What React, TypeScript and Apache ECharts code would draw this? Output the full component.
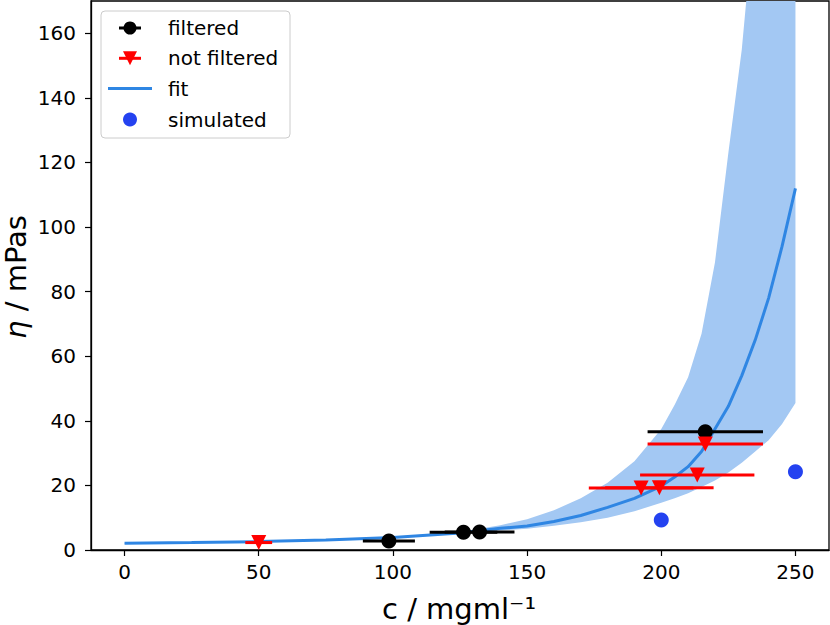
import { useEffect, useRef } from 'react'
import * as echarts from 'echarts'

// fit curve and its confidence band
const fitX = [0, 25, 50, 75, 100, 125, 140, 150, 160, 170, 180, 190, 200, 205, 210, 215, 220, 225, 230, 235, 240, 245, 250]
const fitY = [2.1, 2.3, 2.6, 3.1, 3.85, 5.3, 6.7, 7.4, 8.8, 10.7, 13.2, 16.0, 19.8, 22.6, 25.8, 30.5, 37.5, 44.5, 54, 65, 78, 94, 112]
const bandLow = [2.05, 2.25, 2.5, 3.0, 3.7, 5.0, 6.0, 6.6, 7.5, 8.6, 10.0, 12.0, 14.6, 16.0, 17.6, 19.5, 21.5, 24, 27, 30.5, 34, 39, 45.5]
const bandHigh = [2.15, 2.35, 2.7, 3.2, 4.1, 5.6, 7.7, 9.5, 12.3, 16.0, 20.8, 27.5, 37.5, 45, 53.5, 67, 89, 123, 155, 200, 280, 420, 700]

// measured points with horizontal error bars
const filteredX = [98.5, 126.3, 132.3, 216.4]
const filteredY = [2.8, 5.5, 5.6, 36.6]
const filteredErr = [9.7, 12.6, 13.0, 21.5]

const notFilteredX = [50, 192.5, 199.3, 213.4, 216.4]
const notFilteredY = [2.3, 19.2, 19.3, 23.2, 32.8]
const notFilteredErr = [5, 19.5, 20.2, 21.3, 21.5]

const simulatedX = [200, 250]
const simulatedY = [9.3, 24.2]

const xTicks = [0, 50, 100, 150, 200, 250]
const yTicks = [0, 20, 40, 60, 80, 100, 120, 140, 160]

const FONT = 'DejaVu Sans'
const FIT_COLOR = '#2f86e3'
const BAND_COLOR = '#a3c8f3'
const SIM_COLOR = '#2442f0'

const errorBars = (xs: number[], ys: number[], errs: number[], color: string) => ({
  type: 'custom',
  data: xs.map((x, i) => [x, ys[i], errs[i]]),
  encode: { x: 0, y: 1 },
  renderItem: (_params: any, api: any) => {
    const x = api.value(0)
    const y = api.value(1)
    const e = api.value(2)
    const p1 = api.coord([x - e, y])
    const p2 = api.coord([x + e, y])
    return {
      type: 'line',
      shape: { x1: p1[0], y1: p1[1], x2: p2[0], y2: p2[1] },
      style: { stroke: color, lineWidth: 3 },
    }
  },
})

const legendRows = [28, 58.3, 88.6, 119.5]
const legendLabels = ['filtered', 'not filtered', 'fit', 'simulated']

export default function App() {
  const chartRef = useRef<HTMLDivElement>(null)

  useEffect(() => {
    if (!chartRef.current) return
    const chart = echarts.init(chartRef.current, null, { renderer: 'svg' })

    const legendGraphics: any[] = [
      {
        type: 'rect',
        shape: { x: 101, y: 11, width: 189, height: 127, r: 4 },
        style: { fill: 'rgba(255,255,255,0.8)', stroke: '#cccccc', lineWidth: 1 },
      },
      { type: 'line', shape: { x1: 119, y1: legendRows[0], x2: 141, y2: legendRows[0] }, style: { stroke: '#000', lineWidth: 3 } },
      { type: 'circle', shape: { cx: 130, cy: legendRows[0], r: 6.5 }, style: { fill: '#000' } },
      { type: 'line', shape: { x1: 119, y1: legendRows[1], x2: 141, y2: legendRows[1] }, style: { stroke: '#ff0000', lineWidth: 3 } },
      {
        type: 'polygon',
        shape: { points: [[123, legendRows[1] - 7], [137, legendRows[1] - 7], [130, legendRows[1] + 7]] },
        style: { fill: '#ff0000' },
      },
      { type: 'line', shape: { x1: 108, y1: legendRows[2], x2: 152, y2: legendRows[2] }, style: { stroke: FIT_COLOR, lineWidth: 3 } },
      { type: 'circle', shape: { cx: 130, cy: legendRows[3], r: 7 }, style: { fill: SIM_COLOR } },
      ...legendLabels.map((t, i) => ({
        type: 'text',
        x: 168,
        y: legendRows[i],
        style: { text: t, font: `20px "${FONT}"`, fill: '#000', verticalAlign: 'middle', align: 'left' },
      })),
    ]

    chart.setOption({
      animation: false,
      grid: {
        left: 91,
        right: 1,
        top: 1,
        bottom: 75,
        show: true,
        borderColor: '#000',
        borderWidth: 1.3,
        backgroundColor: 'transparent',
      },
      xAxis: {
        type: 'value',
        min: -12.5,
        max: 262.5,
        splitLine: { show: false },
        axisLine: { onZero: false, lineStyle: { color: '#000', width: 1.3 } },
        axisTick: { show: true, length: 6, lineStyle: { color: '#000', width: 1.2 }, customValues: xTicks },
        axisLabel: { fontFamily: FONT, fontSize: 20, color: '#000', margin: 12, customValues: xTicks },
      },
      yAxis: {
        type: 'value',
        min: 0,
        max: 170,
        splitLine: { show: false },
        axisLine: { show: true, onZero: false, lineStyle: { color: '#000', width: 1.3 } },
        axisTick: { show: true, length: 6, lineStyle: { color: '#000', width: 1.2 }, customValues: yTicks },
        axisLabel: { fontFamily: FONT, fontSize: 20, color: '#000', margin: 15, customValues: yTicks },
      },
      graphic: [
        {
          type: 'text',
          x: 15.5,
          y: 277,
          rotation: Math.PI / 2,
          style: {
            text: '{i|η} / mPas',
            font: `29px "${FONT}"`,
            fill: '#000',
            align: 'center',
            verticalAlign: 'middle',
            rich: { i: { fontFamily: FONT, fontSize: 29, fontStyle: 'italic', fill: '#000' } },
          },
        },
        {
          type: 'text',
          x: 459,
          y: 609,
          style: { text: 'c / mgml⁻¹', font: `29px "${FONT}"`, fill: '#000', align: 'center', verticalAlign: 'middle' },
        },
        { type: 'group', z: 100, children: legendGraphics },
      ],
      series: [
        {
          // confidence band drawn as one polygon through the axis scales
          type: 'custom',
          data: [[fitX[0], bandLow[0]]],
          encode: { x: 0, y: 1 },
          renderItem: (params: any, api: any) => {
            const upper = fitX.map((x, i) => api.coord([x, bandHigh[i]]))
            const lower = fitX.map((x, i) => api.coord([x, bandLow[i]])).reverse()
            const cs = params.coordSys
            return {
              type: 'polygon',
              shape: { points: [...upper, ...lower] },
              style: { fill: BAND_COLOR },
              clipPath: { type: 'rect', shape: { x: cs.x, y: cs.y, width: cs.width, height: cs.height } },
            }
          },
          z: 1,
        },
        {
          type: 'line',
          data: fitX.map((x, i) => [x, fitY[i]]),
          symbol: 'none',
          lineStyle: { color: FIT_COLOR, width: 3 },
          z: 2,
        },
        { ...errorBars(filteredX, filteredY, filteredErr, '#000'), z: 3 },
        {
          type: 'scatter',
          data: filteredX.map((x, i) => [x, filteredY[i]]),
          symbol: 'circle',
          symbolSize: 15,
          itemStyle: { color: '#000', opacity: 1 },
          z: 4,
        },
        { ...errorBars(notFilteredX, notFilteredY, notFilteredErr, '#ff0000'), z: 5 },
        {
          type: 'scatter',
          data: notFilteredX.map((x, i) => [x, notFilteredY[i]]),
          symbol: 'triangle',
          symbolRotate: 180,
          symbolSize: 15,
          itemStyle: { color: '#ff0000', opacity: 1 },
          z: 6,
        },
        {
          type: 'scatter',
          data: simulatedX.map((x, i) => [x, simulatedY[i]]),
          symbol: 'circle',
          symbolSize: 15,
          itemStyle: { color: SIM_COLOR, opacity: 1 },
          z: 7,
        },
      ],
    })

    return () => {
      chart.dispose()
    }
  }, [])

  return (
    <div
      ref={chartRef}
      style={{ position: 'absolute', left: 0, top: 0, width: '830px', height: '625px', background: '#fff' }}
    ></div>
  )
}
